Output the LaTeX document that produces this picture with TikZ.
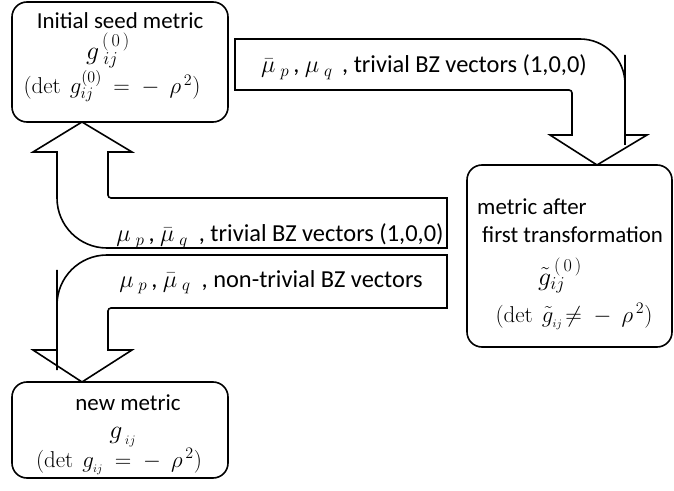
\RequirePackage{fix-cm}
\documentclass[tikz,border=0pt]{standalone}
\usepackage[no-math]{fontspec}
\setmainfont{Carlito}
\begin{document}
\begin{tikzpicture}[x=1bp,y=-1bp,
  box/.style={draw, line width=1.6bp, rounded corners=15bp, inner sep=0pt},
  barrow/.style={draw, line width=1.6bp, fill=white, line join=miter},
  txt/.style={font=\fontsize{23}{27}\selectfont, anchor=base, inner sep=0pt},
  bigm/.style={font=\fontsize{26}{30}\selectfont, anchor=base, inner sep=0pt},
  lbl/.style={font=\fontsize{24.5}{28}\selectfont, anchor=base, inner sep=0pt}]
\useasboundingbox (0,0) rectangle (674,491);
% metric boxes
\node[box, minimum width=216bp, minimum height=120bp] (seed) at (120,62) {};
\node[box, minimum width=205bp, minimum height=182bp] (first) at (569.5,256) {};
\node[box, minimum width=216bp, minimum height=96bp] (newm) at (120,430) {};
% block arrows
\draw[barrow] (235,39) -- (400,39) [rounded corners=45bp] -- (625,39) -- (625,100) [sharp corners]
  -- (625,135) -- (647,135) -- (597,165) -- (550,135) -- (572,135) -- (572,115) [rounded corners=3bp]
  -- (572,90) -- (400,90) [sharp corners] -- (235,90) -- cycle;
\draw[barrow] (447,198) -- (300,198) [rounded corners=3bp] -- (108,198) -- (108,175) [sharp corners]
  -- (108,152) -- (132,152) -- (82,122) -- (33,152) -- (57,152) -- (57,170) [rounded corners=50bp]
  -- (57,248) -- (300,248) [sharp corners] -- (447,248) -- cycle;
\draw[barrow] (447,255) -- (300,255) [rounded corners=50bp] -- (57,255) -- (57,320) [sharp corners]
  -- (57,350) -- (33,350) -- (82,382) -- (132,350) -- (108,350) -- (108,330) [rounded corners=3bp]
  -- (108,308) -- (300,308) [sharp corners] -- (447,308) -- cycle;
% arrow labels
\node[lbl] (lbltop) at (424,73) {$\bar\mu_{\;p}$\,, $\mu_{\;q}$\, , trivial BZ vectors (1,0,0)};
\node[lbl] (lblmid) at (280,242) {$\mu_{\;p}$\,, $\bar\mu_{\;q}$\ \ , trivial BZ vectors (1,0,0)};
\node[lbl] (lblbot) at (271,287) {$\mu_{\;p}$\,, $\bar\mu_{\;q}$\ \ , non-trivial BZ vectors};
% box texts
\node[txt] (seedname) at (120,29) {Initial seed metric};
\node[bigm] (seedg) at (108,60) {$g^{\,(\,0\,)}_{\;ij}$};
\node[txt] (seeddet) at (112,94) {$(\det\ g^{(0)}_{ij}\ =\ -\ \ \rho^{\,2})$};
\node[txt, anchor=base west] (firstname) at (477,215) {metric after};
\node[txt, anchor=base west] (firstname2) at (482,243) {first transformation};
\node[bigm] (firstg) at (560,285) {$\tilde g^{\,(\,0\,)}_{ij}$};
\node[txt] (firstdet) at (574,322) {$(\det\ \tilde g_{_{ij}}\!\neq\ -\ \ \rho^{\,2})$};
\node[txt] (newname) at (128,410) {new metric};
\node[bigm] (newg) at (123,438) {$g_{_{\;ij}}$};
\node[txt] (newdet) at (119,467) {$(\det\ g_{_{ij}}\ =\ -\ \ \rho^{\,2})$};
\end{tikzpicture}
\end{document}
